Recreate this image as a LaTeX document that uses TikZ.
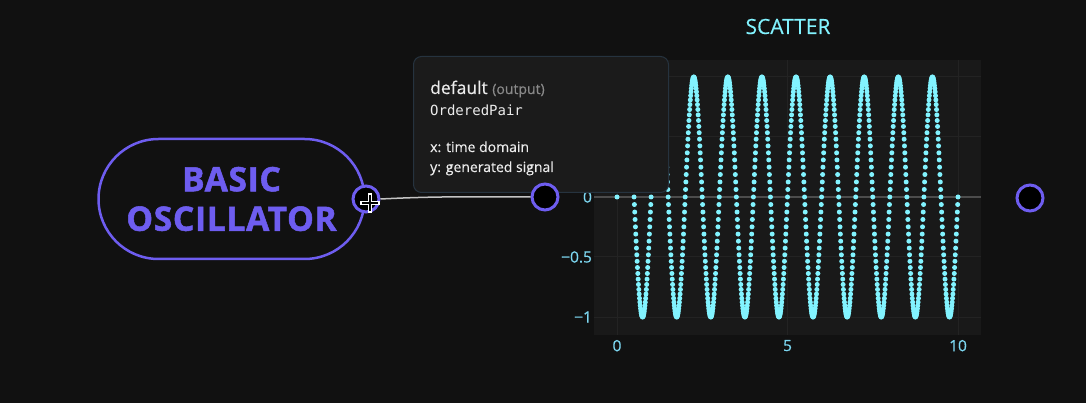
\documentclass[tikz,border=0pt]{standalone}
\usepackage{fontspec}
\setmainfont{Open Sans}
\setmonofont{DejaVu Sans Mono}
\definecolor{bg}{HTML}{111111}
\definecolor{plotbg}{HTML}{191919}
\definecolor{gridcol}{HTML}{232323}
\definecolor{zerocol}{HTML}{4C4C4C}
\definecolor{dotcol}{HTML}{82F3FF}
\definecolor{tickcol}{HTML}{7DD8F2}
\definecolor{nodepurple}{HTML}{6E5DF0}
\definecolor{tipfill}{HTML}{1B1B1B}
\definecolor{tipline}{HTML}{26333F}
\definecolor{tipfg}{HTML}{ECECEC}
\definecolor{tipgray}{HTML}{8A8A8A}
\definecolor{wirecol}{HTML}{C4C4C4}
\begin{document}
\begin{tikzpicture}[x=1pt, y=-1pt,
    port/.style={circle, draw=nodepurple, line width=3pt, fill=black, minimum size=26pt, inner sep=0},
    ticklabel/.style={text=tickcol, font=\fontsize{15.5}{18}\selectfont\addfontfeature{FakeBold=0.4}, inner sep=0},
    tiptext/.style={anchor=base west, inner sep=0, text=tipfg, font=\fontsize{14}{17}\selectfont\addfontfeature{FakeBold=0.4}}]
    \useasboundingbox[fill=bg] (0,0) rectangle (1086,403);
    \node[anchor=base, text=dotcol, font=\fontsize{21}{24}\selectfont\addfontfeature{FakeBold=0.3}, inner sep=0] (title) at (788,34) {SCATTER};
    \begin{scope}[shift={(617,197)}, x=34.1pt, y=120pt]
        \fill[plotbg] (-0.67,-1.15) rectangle (10.67,1.14);
        \foreach \x in {0, 5, 10} {
            \draw[gridcol, line width=1pt] (\x,-1.15) -- (\x,1.14);
            \node[ticklabel, anchor=north] (xtick\x) at (\x,-1.19) {\x};
        }
        \foreach \y/\t [count=\k] in {1/1, 0.5/0.5, -0.5/−0.5, -1/−1} {
            \draw[gridcol, line width=1pt] (-0.67,\y) -- (10.67,\y);
            \node[ticklabel, anchor=east] (ytick\k) at (-0.73,\y) {\t};
        }
        \node[ticklabel, anchor=east] (ytick0) at (-0.73,0) {0};
        \draw[zerocol, line width=2pt] (-0.67,0) -- (10.67,0);
        \foreach \i in {0,...,1000} {
            \fill[dotcol] (\i/100, {sin(3.6*\i)}) circle[radius=2.5pt];
        }
    \end{scope}
    \node[draw=nodepurple, line width=2.5pt, rounded corners=60pt, minimum width=266pt, minimum height=120pt,
        text=nodepurple, align=center, font=\fontsize{33.6}{39.5}\selectfont\bfseries\addfontfeature{LetterSpace=2,FakeBold=1.5}] (osc) at (231.5,199) {BASIC\\OSCILLATOR};
    \node[port] (oscout) at (366,199) {};
    \node[draw=tipline, fill=tipfill, line width=1pt, rounded corners=8pt, minimum width=255pt, minimum height=136pt] (tooltip) at (541,124.5) {};
    \node[tiptext, font=\fontsize{17.5}{20}\selectfont\addfontfeature{FakeBold=0.4}] (tipname) at (430,94) {default \textcolor{tipgray}{\fontsize{14}{17}\selectfont(output)}};
    \node[tiptext, font=\fontsize{14}{17}\ttfamily] (tiptype) at (430,116) {OrderedPair};
    \node[tiptext] (tipx) at (430,152) {x: time domain};
    \node[tiptext] (tipy) at (430,172) {y: generated signal};
    \node[port] (scin) at (545,197) {};
    \node[port] (scout) at (1030,198) {};
    \draw[wirecol, line width=1.5pt] (oscout.east) .. controls +(60,-3) and +(-60,0) .. (scin.west);
    \draw[white, line width=4pt] (360,203) -- (380,203) (370,193) -- (370,213);
    \draw[black, line width=1.2pt] (362,203) -- (378,203) (370,195) -- (370,211);
\end{tikzpicture}
\end{document}
